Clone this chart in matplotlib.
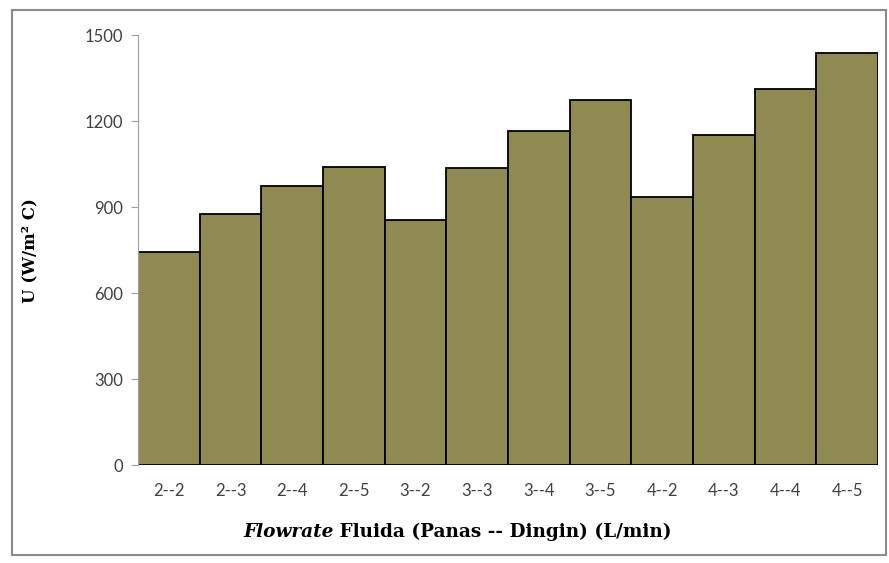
import matplotlib.pyplot as plt
from matplotlib.patches import Rectangle

# flow rate pairs (hot -- cold) and overall heat transfer coefficient
categories = ['2--2', '2--3', '2--4', '2--5', '3--2', '3--3',
              '3--4', '3--5', '4--2', '4--3', '4--4', '4--5']
u_values = [743, 876, 973, 1039, 855, 1036, 1165, 1273, 935, 1150, 1310, 1438]
yticks = [0, 300, 600, 900, 1200, 1500]

fig = plt.figure(figsize=(8.89, 5.63), dpi=100)
ax = fig.add_axes([138/889, 1 - 465/563, 740/889, 430/563])

# outer chart frame
fig.patches.append(Rectangle((12/889, 1 - 555/563), 874/889, 545/563,
                             transform=fig.transFigure, fill=False,
                             edgecolor='#8a8a8a', linewidth=1.5))

x = range(len(categories))
ax.bar(x, u_values, width=1.0, color='#8f8a52', edgecolor='black', linewidth=1.3)

ax.set_xlim(-0.5, len(categories) - 0.5)
ax.set_ylim(0, 1500)
ax.set_yticks(yticks)
ax.set_xticks(list(x))
ax.set_xticklabels(categories)

for s in ['top', 'right', 'bottom']:
    ax.spines[s].set_visible(False)
ax.spines['left'].set_color('#a0a0a0')
ax.tick_params(axis='y', length=5, color='#a0a0a0', labelsize=12,
               labelcolor='#404040', pad=6)
ax.tick_params(axis='x', length=0, labelsize=12, labelcolor='#404040', pad=13)
for lab in ax.get_xticklabels() + ax.get_yticklabels():
    lab.set_family('Lato')

fig.text(30/889, 1 - 251/563, 'U (W/m² C)', rotation=90, ha='center', va='center',
         family='DejaVu Serif', fontweight='bold', fontsize=12)

t1 = fig.text(243/889, 1 - 537/563, 'Flowrate', family='DejaVu Serif',
              fontstyle='italic', fontweight='bold', fontsize=13.3, va='baseline')
ax.annotate(' Fluida (Panas -- Dingin) (L/min)', xy=(1, 0), xycoords=t1,
            va='bottom', family='DejaVu Serif', fontweight='bold', fontsize=13.3)

fig.savefig('out.png', dpi=100)
